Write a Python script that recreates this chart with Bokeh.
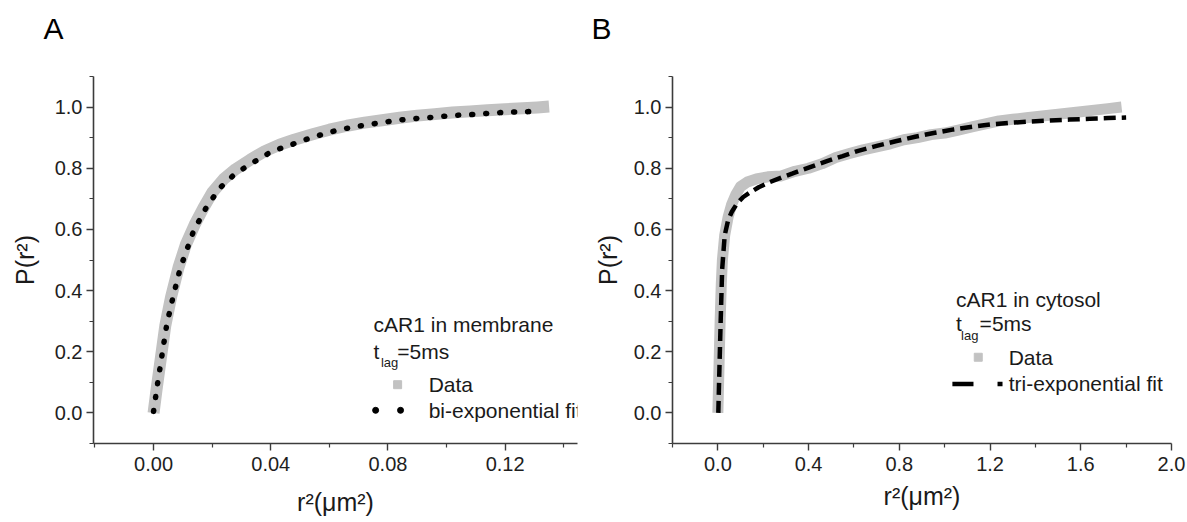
from bokeh.plotting import figure
from bokeh.models import Range1d, FixedTicker, NumeralTickFormatter, Title
from bokeh.layouts import row
from bokeh.core.properties import value
from bokeh.embed import file_html
from bokeh.resources import INLINE

FONT = "Liberation Sans"

# ---------------- Panel A: cAR1 in membrane ----------------
a_data_x = [0.0, 0.001, 0.0025, 0.004, 0.006, 0.0085, 0.011, 0.014, 0.017, 0.020,
            0.024, 0.028, 0.033, 0.038, 0.043, 0.048, 0.054, 0.060, 0.066, 0.072,
            0.078, 0.084, 0.090, 0.096, 0.102, 0.108, 0.114, 0.120, 0.126, 0.131, 0.135]
a_data_y = [0.0, 0.075, 0.18, 0.285, 0.38, 0.475, 0.55, 0.615, 0.67, 0.72,
            0.765, 0.797, 0.828, 0.856, 0.877, 0.893, 0.91, 0.926, 0.939, 0.949,
            0.957, 0.965, 0.972, 0.977, 0.982, 0.986, 0.99, 0.993, 0.996, 0.999, 1.002]
a_fit_x = [0.0, 0.0012, 0.0045, 0.0065, 0.0091, 0.0137, 0.0183, 0.0228, 0.0274, 0.0324,
           0.0365, 0.0407, 0.0455, 0.0503, 0.0549, 0.0595, 0.0638, 0.0686, 0.0732, 0.0778,
           0.0824, 0.0865, 0.0911, 0.0957, 0.1004, 0.1046, 0.1092, 0.1137, 0.1183, 0.1229,
           0.1275, 0.1321]
a_fit_y = [0.005, 0.085, 0.289, 0.373, 0.473, 0.596, 0.677, 0.737, 0.778, 0.810,
           0.833, 0.857, 0.871, 0.889, 0.903, 0.916, 0.927, 0.935, 0.943, 0.949,
           0.956, 0.960, 0.964, 0.967, 0.971, 0.974, 0.976, 0.979, 0.982, 0.984,
           0.985, 0.987]

# ---------------- Panel B: cAR1 in cytosol ----------------
b_data_x = [0.0, 0.005, 0.01, 0.015, 0.02, 0.03, 0.045, 0.06, 0.08, 0.10,
            0.13, 0.17, 0.22, 0.28, 0.34, 0.40, 0.46, 0.52, 0.58, 0.64,
            0.70, 0.76, 0.82, 0.88, 0.94, 1.00, 1.06, 1.12, 1.18, 1.24,
            1.30, 1.36, 1.42, 1.48, 1.54, 1.60, 1.66, 1.72, 1.78]
b_data_y = [0.0, 0.15, 0.30, 0.42, 0.50, 0.58, 0.64, 0.68, 0.715, 0.74,
            0.755, 0.765, 0.772, 0.775, 0.79, 0.80, 0.815, 0.835, 0.848, 0.86,
            0.87, 0.88, 0.893, 0.90, 0.91, 0.915, 0.925, 0.935, 0.945, 0.955,
            0.96, 0.965, 0.97, 0.975, 0.98, 0.985, 0.99, 0.995, 1.0]
b_fit_x = [0.002, 0.006, 0.012, 0.019, 0.03, 0.045, 0.061, 0.085, 0.112, 0.14,
           0.18, 0.23, 0.281, 0.33, 0.382, 0.43, 0.484, 0.55, 0.619, 0.70,
           0.788, 0.87, 0.957, 1.04, 1.126, 1.21, 1.295, 1.38, 1.46, 1.55,
           1.64, 1.72, 1.80]
b_fit_y = [0.0, 0.12, 0.29, 0.47, 0.58, 0.63, 0.657, 0.685, 0.706, 0.72,
           0.738, 0.755, 0.77, 0.783, 0.797, 0.81, 0.824, 0.84, 0.857, 0.873,
           0.889, 0.903, 0.916, 0.927, 0.936, 0.944, 0.949, 0.953, 0.956, 0.959,
           0.962, 0.964, 0.966]

# ---------------- Ticks / labels ----------------
a_xticks = [0.0, 0.04, 0.08, 0.12]
a_xminor = [-0.02, 0.02, 0.06, 0.10, 0.14]
b_xticks = [0.0, 0.4, 0.8, 1.2, 1.6, 2.0]
b_xminor = [-0.2, 0.2, 0.6, 1.0, 1.4, 1.8]
y_ticks = [0.0, 0.2, 0.4, 0.6, 0.8, 1.0]
y_minor = [-0.1, 0.1, 0.3, 0.5, 0.7, 0.9, 1.1]

y_label = "P(r²)"
x_label = "r²(μm²)"
a_title = "cAR1 in membrane"
b_title = "cAR1 in cytosol"
lag_parts = ["t", "lag", "=5ms"]
data_name = "Data"
a_fit_name = "bi-exponential fit"
b_fit_name = "tri-exponential fit"

GRAY = "#c2c2c2"
AXC = "#3c3c3c"
TXT = "#1a1a1a"


def style(p, xt, xm, xfmt, panel, ystand, xstand, title_offset):
    p.xaxis.ticker = FixedTicker(ticks=xt, minor_ticks=xm)
    p.yaxis.ticker = FixedTicker(ticks=y_ticks, minor_ticks=y_minor)
    p.xaxis.formatter = NumeralTickFormatter(format=xfmt)
    p.yaxis.formatter = NumeralTickFormatter(format="0.0")
    for ax in (p.xaxis[0], p.yaxis[0]):
        ax.axis_line_color = AXC
        ax.axis_line_width = 1.6
        ax.major_tick_line_color = AXC
        ax.minor_tick_line_color = AXC
        ax.major_tick_line_width = 1.4
        ax.minor_tick_line_width = 1.2
        ax.major_tick_in = 0
        ax.major_tick_out = 7
        ax.minor_tick_in = 0
        ax.minor_tick_out = 4
        ax.major_label_text_font = FONT
        ax.major_label_text_font_size = "20px"
        ax.major_label_text_color = "#1e1e1e"
        ax.axis_label_text_font = FONT
        ax.axis_label_text_font_size = "25px"
        ax.axis_label_text_font_style = "normal"
        ax.axis_label_text_color = TXT
    p.xaxis.major_label_standoff = 6
    p.yaxis.major_label_standoff = 4
    p.yaxis.axis_label = y_label
    p.xaxis.axis_label = x_label
    p.yaxis.axis_label_standoff = ystand
    p.xaxis.axis_label_standoff = xstand
    # spacer title nearest the frame, then the panel letter above it
    p.add_layout(Title(text=" ", text_font_size="10px", standoff=13), "above")
    p.add_layout(Title(text=panel, align="left", vertical_align="top", standoff=8,
                       offset=title_offset, text_font=FONT, text_font_size="30px",
                       text_font_style="normal", text_color="black"), "above")
    p.grid.visible = False
    p.outline_line_color = None
    p.background_fill_color = "white"
    p.border_fill_color = "white"


def txt(p, x, y, s, size="21px"):
    p.text(x=[x], y=[y], text=[s], text_font=value(FONT), text_font_size=value(size),
           text_color=TXT, text_align="left", text_baseline="middle")


# ---------------- Figure A ----------------
pa = figure(width=585, height=520, output_backend="svg", toolbar_location=None,
            x_range=Range1d(-0.0205, 0.1447), y_range=Range1d(-0.1, 1.1),
            min_border_left=93, min_border_right=8, min_border_top=76, min_border_bottom=75)
style(pa, a_xticks, a_xminor, "0.00", "A", 13, 14, -50)
pa.line(a_data_x, a_data_y, line_color=GRAY, line_width=12, line_join="round")
pa.line(a_fit_x, a_fit_y, line_color="black", line_width=5.5, line_dash="1 13",
        line_cap="round")
# legend block (positions are layout constants)
txt(pa, 0.0751, 0.288, a_title)
txt(pa, 0.0751, 0.200, lag_parts[0])
txt(pa, 0.0776, 0.164, lag_parts[1], "13px")
txt(pa, 0.0832, 0.200, lag_parts[2])
pa.scatter([0.0833], [0.0923], marker="square", size=8, color=GRAY)
txt(pa, 0.0939, 0.0923, data_name)
pa.scatter([0.0758, 0.0843], [0.0085, 0.0085], marker="circle", size=6, color="black")
txt(pa, 0.0939, 0.0085, a_fit_name)

# ---------------- Figure B ----------------
pb = figure(width=602, height=520, output_backend="svg", toolbar_location=None,
            x_range=Range1d(-0.2, 2.0), y_range=Range1d(-0.1, 1.1),
            min_border_left=87, min_border_right=16, min_border_top=74, min_border_bottom=77)
style(pb, b_xticks, b_xminor, "0.0", "B", 9, 8, -81)
pb.line(b_data_x, b_data_y, line_color=GRAY, line_width=11, line_join="round")
pb.line(b_fit_x, b_fit_y, line_color="black", line_width=4.5, line_dash="12 6")
txt(pb, 1.050, 0.372, b_title)
txt(pb, 1.050, 0.292, lag_parts[0])
txt(pb, 1.072, 0.253, lag_parts[1], "13px")
txt(pb, 1.154, 0.292, lag_parts[2])
pb.scatter([1.148], [0.182], marker="square", size=8, color=GRAY)
txt(pb, 1.282, 0.182, data_name)
pb.segment(x0=[1.034, 1.233], y0=[0.0948, 0.0948], x1=[1.127, 1.255], y1=[0.0948, 0.0948],
           line_color="black", line_width=4.5)
txt(pb, 1.282, 0.0948, b_fit_name)

layout = row(pa, pb)
open("out.html", "w").write(file_html(layout, INLINE))
